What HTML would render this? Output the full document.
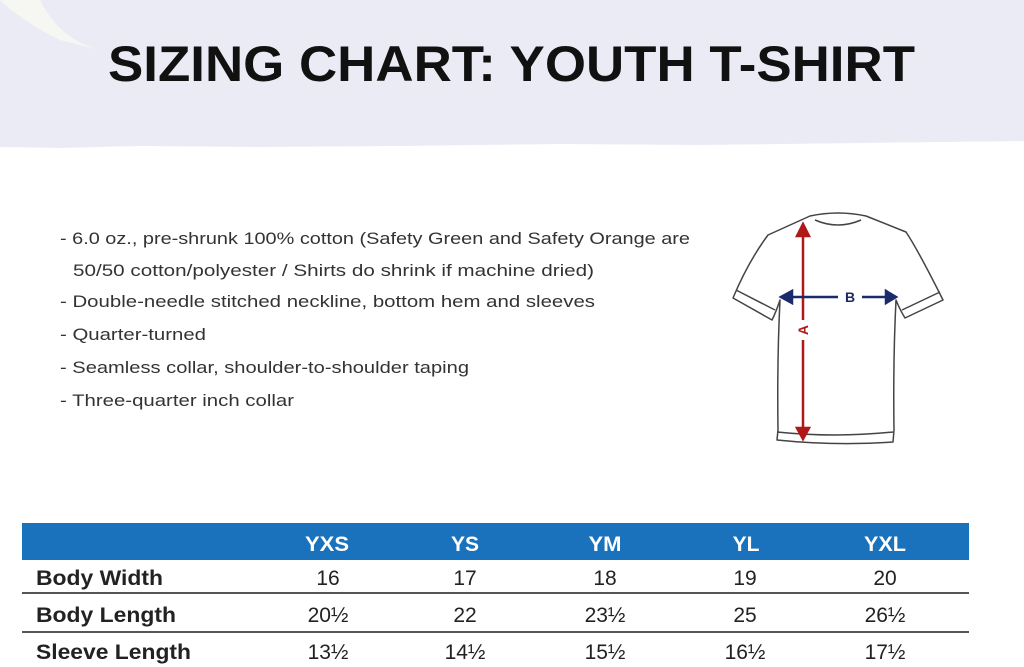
<!DOCTYPE html>
<html><head><meta charset="utf-8"><style>
html,body{margin:0;padding:0;background:#fff;}
svg{display:block;}
</style></head><body>
<svg width="1024" height="667" viewBox="0 0 1024 667" xmlns="http://www.w3.org/2000/svg">
<rect x="0" y="0" width="1024" height="138" fill="#ebebf5"/>
<path d="M0 138 L1024 138 L1024 141 L860 143 L700 145 L560 144 L400 146 L260 147 L140 146 L60 148 L0 147 Z" fill="#ebebf5"/>
<path d="M0 0 L40 0 Q60 40 100 50 L60 40 Q20 20 0 0 Z" fill="#f6f6f2"/>
<text x="108" y="81" font-family="Liberation Sans, sans-serif" font-weight="bold" font-size="50" fill="#111" textLength="807" lengthAdjust="spacingAndGlyphs">SIZING CHART: YOUTH T-SHIRT</text>

<g font-family="Liberation Sans, sans-serif" font-size="17" fill="#333">
<text x="60" y="244" textLength="630" lengthAdjust="spacingAndGlyphs">- 6.0 oz., pre-shrunk 100% cotton (Safety Green and Safety Orange are</text>
<text x="73" y="276" textLength="521" lengthAdjust="spacingAndGlyphs">50/50 cotton/polyester / Shirts do shrink if machine dried)</text>
<text x="60" y="307" textLength="535" lengthAdjust="spacingAndGlyphs">- Double-needle stitched neckline, bottom hem and sleeves</text>
<text x="60" y="340" textLength="146" lengthAdjust="spacingAndGlyphs">- Quarter-turned</text>
<text x="60" y="373" textLength="409" lengthAdjust="spacingAndGlyphs">- Seamless collar, shoulder-to-shoulder taping</text>
<text x="60" y="406" textLength="234" lengthAdjust="spacingAndGlyphs">- Three-quarter inch collar</text>
</g>

<g fill="none" stroke="#444" stroke-width="1.5" stroke-linejoin="round">
<path d="M810 216 Q838 210 866 216 L906 232 Q918 250 943 300 L905 318 Q900 310 896 300 Q893 360 894 430 L893 442 Q835 446 777 440 L778 430 Q777 360 780 300 Q776 312 772 320 L733 298 Q748 262 768 235 Z"/>
<path d="M815 220 Q838 230 861 220"/>
<path d="M736 290 L775 310"/><path d="M940 292 L902 310"/>
<path d="M777 432 Q835 438 893 432"/>
</g>
<g stroke="#b01818" stroke-width="2.5" fill="#b01818">
<line x1="803" y1="232" x2="803" y2="320"/><line x1="803" y1="340" x2="803" y2="430"/>
<path d="M797 236 L803 224 L809 236 Z"/><path d="M797 428 L803 439 L809 428 Z"/>
</g>
<text x="808" y="330" font-family="Liberation Sans, sans-serif" font-weight="bold" font-size="14" fill="#b01818" transform="rotate(-90 808 330)" text-anchor="middle">A</text>
<g stroke="#1a2a6a" stroke-width="2.5" fill="#1a2a6a">
<line x1="788" y1="297" x2="838" y2="297"/><line x1="862" y1="297" x2="888" y2="297"/>
<path d="M792 291 L781 297 L792 303 Z"/><path d="M886 291 L896 297 L886 303 Z"/>
</g>
<text x="850" y="302" font-family="Liberation Sans, sans-serif" font-weight="bold" font-size="14" fill="#1a2a6a" text-anchor="middle">B</text>

<rect x="22" y="523" width="947" height="37" fill="#1a72bd"/>
<g font-family="Liberation Sans, sans-serif" font-weight="bold" font-size="21" fill="#fff" text-anchor="middle">
<text x="327" y="551" textLength="44" lengthAdjust="spacingAndGlyphs">YXS</text>
<text x="465" y="551">YS</text>
<text x="605" y="551" textLength="33" lengthAdjust="spacingAndGlyphs">YM</text>
<text x="746" y="551">YL</text>
<text x="885" y="551" textLength="42" lengthAdjust="spacingAndGlyphs">YXL</text>
</g>
<line x1="22" y1="593" x2="969" y2="593" stroke="#555" stroke-width="2"/>
<line x1="22" y1="632" x2="969" y2="632" stroke="#555" stroke-width="2"/>
<g font-family="Liberation Sans, sans-serif" font-weight="bold" font-size="21" fill="#222">
<text x="36" y="585" textLength="127" lengthAdjust="spacingAndGlyphs">Body Width</text>
<text x="36" y="622" textLength="140" lengthAdjust="spacingAndGlyphs">Body Length</text>
<text x="36" y="659" textLength="155" lengthAdjust="spacingAndGlyphs">Sleeve Length</text>
</g>
<g font-family="Liberation Sans, sans-serif" font-size="21" fill="#222" text-anchor="middle">
<text x="328" y="585">16</text><text x="465" y="585">17</text><text x="605" y="585">18</text><text x="745" y="585">19</text><text x="885" y="585">20</text>
<text x="328" y="622">20½</text><text x="465" y="622">22</text><text x="605" y="622">23½</text><text x="745" y="622">25</text><text x="885" y="622">26½</text>
<text x="328" y="659">13½</text><text x="465" y="659">14½</text><text x="605" y="659">15½</text><text x="745" y="659">16½</text><text x="885" y="659">17½</text>
</g>
</svg>
</body></html>
